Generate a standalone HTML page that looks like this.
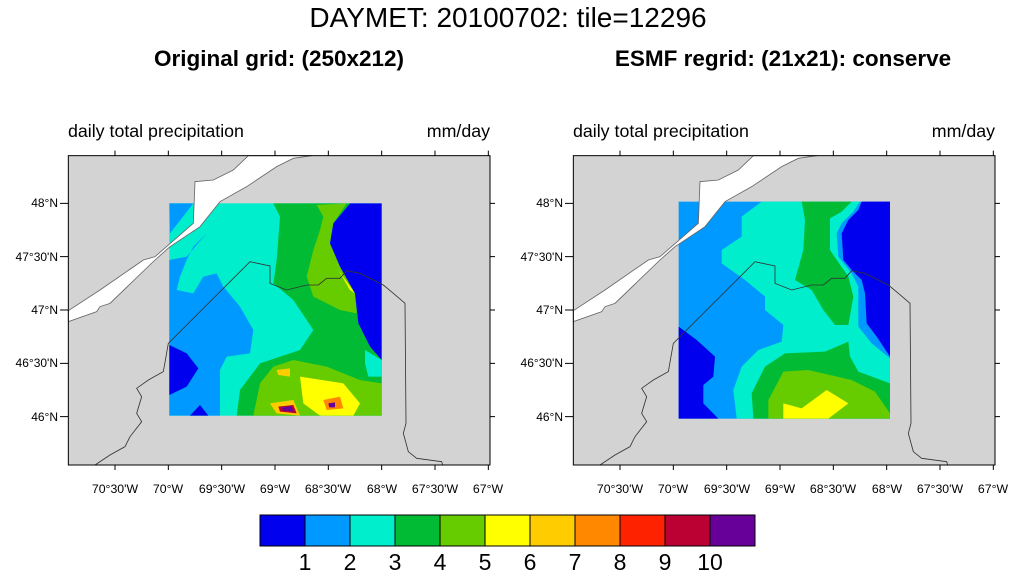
<!DOCTYPE html>
<html><head><meta charset="utf-8"><style>
body{margin:0;width:1016px;height:582px;background:#fff;position:relative;overflow:hidden;font-family:"Liberation Sans",sans-serif;}
.t{position:absolute;white-space:nowrap;}
svg{position:absolute;}
</style></head><body>
<div class="t" style="left:0;width:1016px;text-align:center;top:2px;font-size:28px;">DAYMET: 20100702: tile=12296</div>
<div class="t" style="left:79px;width:400px;text-align:center;top:46px;font-size:22.5px;font-weight:bold;">Original grid: (250x212)</div>
<div class="t" style="left:583px;width:400px;text-align:center;top:46px;font-size:22.5px;font-weight:bold;">ESMF regrid: (21x21): conserve</div>
<div class="t" style="left:68px;top:121px;font-size:17.8px;">daily total precipitation</div>
<div class="t" style="left:390px;width:100px;text-align:right;top:121px;font-size:17.8px;">mm/day</div>
<div class="t" style="left:573px;top:121px;font-size:17.8px;">daily total precipitation</div>
<div class="t" style="left:895px;width:100px;text-align:right;top:121px;font-size:17.8px;">mm/day</div>

<svg width="0" height="0"><defs>
<g id="geo">
<path d="M25,482 L120,420 L250,330 L285,320 L400,220 L405,95 L460,90 L520,60 L565,17 L755,17 L700,25 L650,50 L560,110 L480,155 L420,230 L330,290 L285,330 L150,460 L120,470 L110,485 L25,515 Z" fill="#fff" stroke="#666" stroke-width="2.5"/>
<path d="M105,945 L150,915 L195,890 L210,860 L245,815 L230,790 L245,740 L230,715 L265,690 L310,665 L325,580 L570,335 L630,348 L630,400 L680,420 L740,405 L775,405 L800,385 L840,385 L860,362 L900,370 L970,405 L1000,430 L1035,460 L1038,820 L1030,850 L1045,905 L1070,925 L1145,935 L1148,945" fill="none" stroke="#333" stroke-width="2.5"/>
</g>
<g id="frame">
<rect x="25" y="17" width="1265" height="928" fill="none" stroke="#000" stroke-width="3"/>
<path d="M25,160h-25M25,320h-25M25,480h-25M25,640h-25M25,800h-25M165,945v15M325,945v15M485,945v15M645,945v15M805,945v15M965,945v15M1125,945v15M1285,945v15M1290,160h15M1290,320h15M1290,480h15M1290,640h15M1290,800h15M165,17v-15M325,17v-15M485,17v-15M645,17v-15M805,17v-15M965,17v-15M1125,17v-15M1285,17v-15" stroke="#000" stroke-width="3"/>
</g>
</defs></svg>

<svg style="left:60px;top:150px" width="440" height="320" viewBox="0 0 1320 960">
<rect x="25" y="17" width="1265" height="928" fill="#d3d3d3"/>
<rect x="328" y="160" width="637" height="637" fill="#00eecc"/>
<path d="M328,160 L400,160 L330,250 Z" fill="#0099ff"/>
<path d="M328,330 L380,320 L440,250 L400,290 L380,330 L360,380 L350,420 L400,430 L430,380 L470,370 L490,410 L540,470 L580,540 L570,610 L500,620 L480,660 L480,797 L328,797 Z" fill="#0099ff"/>
<path d="M328,585 L380,610 L415,655 L380,710 L328,735 Z" fill="#0000ee"/>
<path d="M390,797 L420,765 L445,797 Z" fill="#0000ee"/>
<path d="M640,160 L870,160 L820,220 L810,280 L840,350 L885,430 L895,520 L930,590 L965,630 L965,797 L530,797 L540,720 L600,640 L720,600 L760,540 L700,450 L640,400 L650,330 L660,200 Z" fill="#00bb33"/>
<path d="M770,165 L860,160 L820,220 L810,280 L840,350 L885,430 L890,490 L840,480 L760,440 L740,380 L760,300 L780,240 L790,200 Z" fill="#66cc00"/>
<path d="M835,360 L885,430 L870,420 Z" fill="#ffff00"/>
<path d="M870,160 L965,160 L965,630 L930,590 L895,520 L885,430 L840,350 L810,280 L820,220 Z" fill="#0000ee"/>
<path d="M915,600 L965,630 L965,680 L925,680 L915,640 Z" fill="#00eecc"/>
<path d="M580,797 L600,700 L640,650 L700,630 L800,650 L900,690 L965,700 L965,797 Z" fill="#66cc00"/>
<path d="M720,680 L850,700 L900,760 L880,797 L780,797 L730,760 Z" fill="#ffff00"/>
<path d="M650,660 L690,655 L690,680 L655,675 Z" fill="#ffcc00"/>
<path d="M630,760 L700,750 L720,797 L650,790 Z" fill="#ffcc00"/>
<path d="M655,770 L700,765 L710,790 L660,785 Z" fill="#bb0033"/>
<path d="M665,772 L695,768 L700,785 L670,782 Z" fill="#660099"/>
<path d="M790,750 L840,740 L850,775 L800,780 Z" fill="#ff8800"/>
<path d="M805,760 L825,757 L825,772 L808,772 Z" fill="#660099"/>
<use href="#geo"/><use href="#frame"/>
</svg>

<svg style="left:565px;top:150px" width="440" height="320" viewBox="0 0 1320 960">
<rect x="25" y="17" width="1265" height="928" fill="#d3d3d3"/>
<rect x="341" y="155" width="634" height="651" fill="#0099ff"/>
<path d="M590,155 L530,200 L530,260 L470,300 L470,340 L540,390 L600,440 L600,480 L655,525 L650,575 L580,600 L530,650 L505,720 L515,806 L975,806 L975,625 L920,580 L880,530 L880,410 L860,370 L820,320 L815,250 L830,220 L865,185 L885,155 Z" fill="#00eecc"/>
<path d="M890,155 L975,155 L975,620 L935,560 L905,520 L900,430 L890,390 L860,360 L835,330 L830,250 L850,210 L880,180 Z" fill="#0000ee"/>
<path d="M710,155 L860,155 L830,185 L795,205 L795,300 L815,330 L850,380 L865,440 L850,525 L810,525 L775,480 L740,420 L690,390 L715,300 L720,210 Z" fill="#00bb33"/>
<path d="M565,806 L560,730 L600,650 L660,610 L780,605 L850,575 L855,620 L880,665 L975,700 L975,806 Z" fill="#00bb33"/>
<path d="M610,806 L610,750 L655,665 L730,660 L860,690 L930,725 L975,790 L975,806 Z" fill="#66cc00"/>
<path d="M655,760 L710,775 L785,720 L850,760 L790,806 L655,806 Z" fill="#ffff00"/>
<path d="M341,530 L395,570 L450,620 L445,680 L415,705 L415,760 L460,806 L341,806 Z" fill="#0000ee"/>
<use href="#geo"/><use href="#frame"/>
</svg>

<div style="position:absolute;left:0;top:0;font-size:12px;">
<div class="t" style="left:0;width:58px;text-align:right;top:196px;">48°N</div>
<div class="t" style="left:0;width:58px;text-align:right;top:250px;">47°30'N</div>
<div class="t" style="left:0;width:58px;text-align:right;top:303px;">47°N</div>
<div class="t" style="left:0;width:58px;text-align:right;top:356px;">46°30'N</div>
<div class="t" style="left:0;width:58px;text-align:right;top:410px;">46°N</div>
<div class="t" style="left:505px;width:58px;text-align:right;top:196px;">48°N</div>
<div class="t" style="left:505px;width:58px;text-align:right;top:250px;">47°30'N</div>
<div class="t" style="left:505px;width:58px;text-align:right;top:303px;">47°N</div>
<div class="t" style="left:505px;width:58px;text-align:right;top:356px;">46°30'N</div>
<div class="t" style="left:505px;width:58px;text-align:right;top:410px;">46°N</div>
</div>

<div style="position:absolute;left:0;top:482px;font-size:12.3px;">
<div class="t" style="left:85px;width:60px;text-align:center;">70°30'W</div>
<div class="t" style="left:138px;width:60px;text-align:center;">70°W</div>
<div class="t" style="left:192px;width:60px;text-align:center;">69°30'W</div>
<div class="t" style="left:245px;width:60px;text-align:center;">69°W</div>
<div class="t" style="left:298px;width:60px;text-align:center;">68°30'W</div>
<div class="t" style="left:352px;width:60px;text-align:center;">68°W</div>
<div class="t" style="left:405px;width:60px;text-align:center;">67°30'W</div>
<div class="t" style="left:458px;width:60px;text-align:center;">67°W</div>
<div class="t" style="left:590px;width:60px;text-align:center;">70°30'W</div>
<div class="t" style="left:643px;width:60px;text-align:center;">70°W</div>
<div class="t" style="left:697px;width:60px;text-align:center;">69°30'W</div>
<div class="t" style="left:750px;width:60px;text-align:center;">69°W</div>
<div class="t" style="left:803px;width:60px;text-align:center;">68°30'W</div>
<div class="t" style="left:857px;width:60px;text-align:center;">68°W</div>
<div class="t" style="left:910px;width:60px;text-align:center;">67°30'W</div>
<div class="t" style="left:963px;width:60px;text-align:center;">67°W</div>
</div>

<svg style="left:259px;top:514px" width="498" height="33">
<rect x="1" y="1" width="45" height="31" fill="#0000ee"/>
<rect x="46" y="1" width="45" height="31" fill="#0099ff"/>
<rect x="91" y="1" width="45" height="31" fill="#00eecc"/>
<rect x="136" y="1" width="45" height="31" fill="#00bb33"/>
<rect x="181" y="1" width="45" height="31" fill="#66cc00"/>
<rect x="226" y="1" width="45" height="31" fill="#ffff00"/>
<rect x="271" y="1" width="45" height="31" fill="#ffcc00"/>
<rect x="316" y="1" width="45" height="31" fill="#ff8800"/>
<rect x="361" y="1" width="45" height="31" fill="#ff2200"/>
<rect x="406" y="1" width="45" height="31" fill="#bb0033"/>
<rect x="451" y="1" width="45" height="31" fill="#660099"/>
<path d="M1,1h495v31h-495zM46,1v31M91,1v31M136,1v31M181,1v31M226,1v31M271,1v31M316,1v31M361,1v31M406,1v31M451,1v31" fill="none" stroke="#000" stroke-width="1"/>
</svg>
<div style="position:absolute;left:0;top:549px;font-size:23px;">
<div class="t" style="left:285px;width:40px;text-align:center;">1</div>
<div class="t" style="left:330px;width:40px;text-align:center;">2</div>
<div class="t" style="left:375px;width:40px;text-align:center;">3</div>
<div class="t" style="left:420px;width:40px;text-align:center;">4</div>
<div class="t" style="left:465px;width:40px;text-align:center;">5</div>
<div class="t" style="left:510px;width:40px;text-align:center;">6</div>
<div class="t" style="left:555px;width:40px;text-align:center;">7</div>
<div class="t" style="left:600px;width:40px;text-align:center;">8</div>
<div class="t" style="left:645px;width:40px;text-align:center;">9</div>
<div class="t" style="left:690px;width:40px;text-align:center;">10</div>
</div>
</body></html>
